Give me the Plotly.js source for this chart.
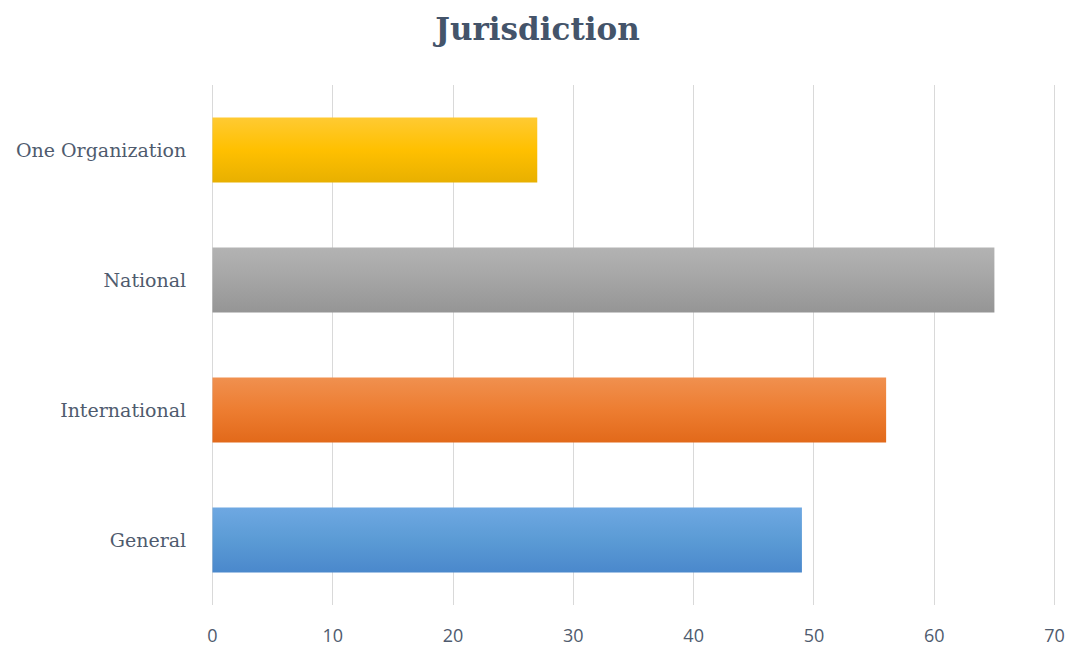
<!DOCTYPE html>
<html>
<head>
<meta charset="utf-8">
<script src="https://cdn.plot.ly/plotly-3.0.1.min.js"></script>
<style>html,body{margin:0;padding:0;background:#fff;}#chart{width:1075px;height:652px;}</style>
</head>
<body>
<div id="chart"></div>
<script>
const categories = ['General', 'International', 'National', 'One Organization'];
const values = [49, 56, 65, 27];
const xTicks = [0, 10, 20, 30, 40, 50, 60, 70];
const baseColors = ['#5B9BD5', '#ED7D31', '#A5A5A5', '#FFC000'];
const gradTop = ['#6EA8E2', '#F0904F', '#B3B3B3', '#FFCA32'];
const gradMid = ['#5B9BD5', '#ED7D31', '#A5A5A5', '#FFC000'];
const gradBot = ['#4A88CC', '#E2691A', '#959595', '#E8B000'];

const trace = {
  type: 'bar',
  orientation: 'h',
  y: categories,
  x: values,
  marker: { color: baseColors, line: { width: 0 } },
  hoverinfo: 'x+y'
};

const layout = {
  width: 1075,
  height: 652,
  paper_bgcolor: '#ffffff',
  plot_bgcolor: '#ffffff',
  margin: { l: 211, r: 19, t: 85, b: 47 },
  bargap: 0.5,
  showlegend: false,
  title: {
    text: '<b>Jurisdiction</b>',
    font: { family: 'DejaVu Serif', size: 31, color: '#44546A' },
    x: 0.5, xanchor: 'center',
    y: 1 - 29 / 652, yref: 'container', yanchor: 'middle'
  },
  xaxis: {
    range: [-0.12, 70.12],
    tickvals: xTicks,
    ticktext: xTicks.map(String),
    showgrid: true,
    gridcolor: '#D9D9D9',
    gridwidth: 1,
    zeroline: true,
    zerolinecolor: '#D9D9D9',
    zerolinewidth: 1,
    showline: false,
    ticks: 'outside',
    ticklen: 14,
    tickcolor: 'rgba(0,0,0,0)',
    tickfont: { family: 'Open Sans', size: 18, color: '#4F5B6E' },
    fixedrange: true
  },
  yaxis: {
    categoryorder: 'array',
    categoryarray: categories,
    showgrid: false,
    zeroline: false,
    showline: false,
    ticks: 'outside',
    ticklen: 20,
    tickcolor: 'rgba(0,0,0,0)',
    tickfont: { family: 'DejaVu Serif', size: 19, color: '#4F5B6E' },
    fixedrange: true
  }
};

function applyGradients(gd) {
  const svg = gd.querySelector('svg.main-svg');
  if (!svg) return;
  let defs = svg.querySelector('defs');
  const ns = 'http://www.w3.org/2000/svg';
  if (!defs) { defs = document.createElementNS(ns, 'defs'); svg.insertBefore(defs, svg.firstChild); }
  categories.forEach((c, i) => {
    const id = 'barGrad' + i;
    if (!document.getElementById(id)) {
      const lg = document.createElementNS(ns, 'linearGradient');
      lg.setAttribute('id', id);
      lg.setAttribute('x1', '0'); lg.setAttribute('y1', '0');
      lg.setAttribute('x2', '0'); lg.setAttribute('y2', '1');
      [[0, gradTop[i]], [0.5, gradMid[i]], [1, gradBot[i]]].forEach(([o, col]) => {
        const s = document.createElementNS(ns, 'stop');
        s.setAttribute('offset', o);
        s.setAttribute('stop-color', col);
        lg.appendChild(s);
      });
      defs.appendChild(lg);
    }
  });
  const paths = gd.querySelectorAll('g.trace.bars g.point path');
  paths.forEach((p, i) => {
    p.style.fill = 'url(#barGrad' + i + ')';
  });
}

Plotly.newPlot('chart', [trace], layout, { displayModeBar: false, staticPlot: true }).then(gd => {
  applyGradients(gd);
});
</script>
</body>
</html>
